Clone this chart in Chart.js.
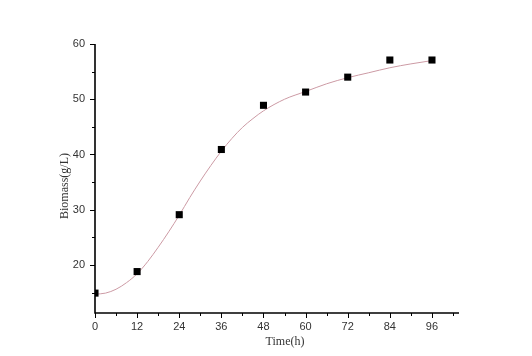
<!DOCTYPE html>
<html>
<head>
<meta charset="utf-8">
<script src="https://cdn.jsdelivr.net/npm/chart.js@4/dist/chart.umd.min.js"></script>
<style>
html,body{margin:0;padding:0;background:#fff;}
#wrap{width:532px;height:356px;}
</style>
</head>
<body>
<div id="wrap"><canvas id="c" width="532" height="356"></canvas></div>
<script>
// Measured biomass points
const timeHours = [0, 12, 24, 36, 48, 60, 72, 84, 96];
const biomass = [14.9, 18.8, 29.1, 40.9, 48.9, 51.3, 54.0, 57.1, 57.1];
// Fitted curve
const fitTime = [0, 3, 6, 9, 12, 15, 18, 21, 24, 27, 30, 33, 36, 39, 42, 45, 48, 54, 60, 66, 72, 78, 84, 90, 96];
const fitBiomass = [14.7, 14.9, 15.6, 16.8, 18.4, 20.6, 23.2, 26.0, 29.0, 32.2, 35.2, 38.0, 40.6, 42.9, 44.9, 46.5, 47.9, 50.0, 51.4, 52.8, 53.9, 54.8, 55.7, 56.4, 57.0];
const xTickValues = [0, 12, 24, 36, 48, 60, 72, 84, 96];
const yTickValues = [20, 30, 40, 50, 60];
const xMinorTicks = [6, 18, 30, 42, 54, 66, 78, 90, 102];
const yMinorTicks = [15, 25, 35, 45, 55];
const xTitle = 'Time(h)';
const yTitle = 'Biomass(g/L)';

const axisPlugin = {
  id: 'axisPlugin',
  afterDraw(chart) {
    const ctx = chart.ctx;
    const xs = chart.scales.x, ys = chart.scales.y;
    const ca = chart.chartArea;
    ctx.save();
    ctx.strokeStyle = '#000';
    ctx.lineWidth = 1.6;
    ctx.beginPath();
    ctx.moveTo(ca.left, ca.top);
    ctx.lineTo(ca.left, ca.bottom);
    ctx.lineTo(ca.right, ca.bottom);
    ctx.stroke();
    ctx.lineWidth = 1;
    ctx.beginPath();
    xTickValues.forEach(v => { const p = Math.round(xs.getPixelForValue(v)) + 0.5; ctx.moveTo(p, ca.bottom); ctx.lineTo(p, ca.bottom + 5); });
    xMinorTicks.forEach(v => { const p = Math.round(xs.getPixelForValue(v)) + 0.5; ctx.moveTo(p, ca.bottom); ctx.lineTo(p, ca.bottom + 3); });
    yTickValues.forEach(v => { const p = Math.round(ys.getPixelForValue(v)) + 0.5; ctx.moveTo(ca.left, p); ctx.lineTo(ca.left - 5, p); });
    yMinorTicks.forEach(v => { const p = Math.round(ys.getPixelForValue(v)) + 0.5; ctx.moveTo(ca.left, p); ctx.lineTo(ca.left - 3, p); });
    ctx.stroke();
    ctx.fillStyle = '#333';
    ctx.font = '11px "Liberation Sans", Arial, sans-serif';
    ctx.textAlign = 'center';
    ctx.textBaseline = 'middle';
    xTickValues.forEach(v => ctx.fillText(String(v), xs.getPixelForValue(v), ca.bottom + 14));
    ctx.textAlign = 'right';
    yTickValues.forEach(v => ctx.fillText(String(v), ca.left - 10, ys.getPixelForValue(v)));
    ctx.font = '12px "Liberation Serif", "Times New Roman", serif';
    ctx.textAlign = 'center';
    ctx.fillText(xTitle, 285, 342);
    ctx.translate(65, 186);
    ctx.rotate(-Math.PI / 2);
    ctx.fillText(yTitle, 0, 0);
    ctx.restore();
  }
};

new Chart(document.getElementById('c'), {
  type: 'scatter',
  data: {
    datasets: [
      {
        label: 'Biomass',
        data: timeHours.map((t, i) => ({x: t, y: biomass[i]})),
        pointStyle: 'rect',
        pointRadius: 5,
        backgroundColor: '#000',
        borderColor: '#000',
        borderWidth: 0,
        order: 0
      },
      {
        label: 'fit',
        data: fitTime.map((t, i) => ({x: t, y: fitBiomass[i]})),
        showLine: true,
        borderColor: '#cc9aa4',
        borderWidth: 1,
        pointRadius: 0,
        fill: false,
        cubicInterpolationMode: 'monotone',
        order: 1
      }
    ]
  },
  options: {
    responsive: false,
    animation: false,
    layout: { padding: { top: 44, right: 73, left: 0, bottom: 0 } },
    plugins: { legend: { display: false }, tooltip: { enabled: false } },
    scales: {
      x: {
        type: 'linear', min: 0, max: 103.7,
        grid: { display: false, drawTicks: false },
        border: { display: false },
        ticks: { display: false },
        afterFit(s) { s.height = 43; }
      },
      y: {
        type: 'linear', min: 11.3, max: 60,
        grid: { display: false, drawTicks: false },
        border: { display: false },
        ticks: { display: false },
        afterFit(s) { s.width = 95; }
      }
    }
  },
  plugins: [axisPlugin]
});
</script>
</body>
</html>
